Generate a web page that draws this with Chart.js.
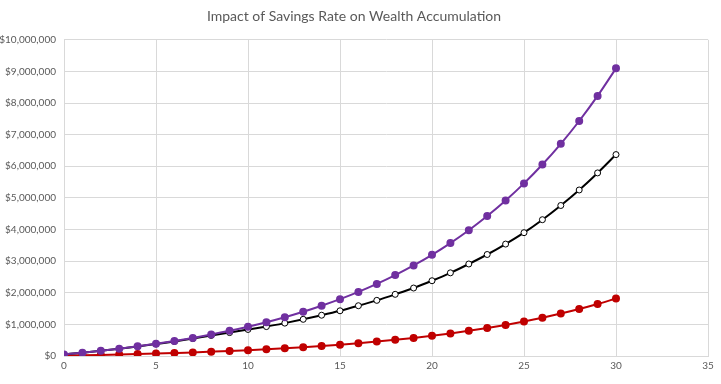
<!DOCTYPE html>
<html lang="en">
<head>
  <meta charset="UTF-8" />
  <title>Impact of Savings Rate on Wealth Accumulation</title>
  <script src="https://cdn.jsdelivr.net/npm/chart.js"></script>
  <style>
    body { margin: 0; background: #fff; }
    #wrap { width: 721px; height: 384px; }
  </style>
</head>
<body>
  <div id="wrap"><canvas id="chart" width="721" height="384"></canvas></div>
  <script>
    const years = [0, 1, 2, 3, 4, 5, 6, 7, 8, 9, 10, 11, 12, 13, 14, 15, 16, 17, 18, 19, 20,
      21, 22, 23, 24, 25, 26, 27, 28, 29, 30];

    // purple - highest savings rate
    const highSavings = [50000, 105000, 165500, 232000, 305000, 386000, 474000, 572000, 679000, 797000,
      927000, 1069000, 1226000, 1399000, 1589000, 1797000, 2027000, 2280000, 2558000, 2864000,
      3200000, 3570000, 3977000, 4425000, 4917000, 5459000, 6055000, 6710000, 7432000, 8225000, 9097000];

    // black - white markers
    const midSavings = [50000, 105000, 165000, 230000, 300000, 380000, 460000, 550000, 650000, 740000,
      840000, 930000, 1040000, 1160000, 1290000, 1430000, 1590000, 1760000, 1950000, 2150000,
      2380000, 2630000, 2910000, 3210000, 3540000, 3900000, 4310000, 4760000, 5250000, 5790000, 6370000];

    // red - low savings rate
    const lowSavings = [10000, 21000, 33000, 46000, 61000, 77000, 95000, 114000, 136000, 159000,
      185000, 214000, 245000, 280000, 318000, 359000, 405000, 456000, 512000, 573000,
      640000, 714000, 795000, 885000, 983000, 1092000, 1211000, 1342000, 1486000, 1645000, 1819000];

    const toPoints = vals => vals.map((v, i) => ({ x: years[i], y: v }));

    // first dataset ends up drawn on top
    new Chart(document.getElementById('chart').getContext('2d'), {
      type: 'line',
      data: {
        datasets: [
          {
            data: toPoints(highSavings),
            borderColor: '#7030a0',
            backgroundColor: '#7030a0',
            borderWidth: 2,
            pointRadius: 3,
            cubicInterpolationMode: 'monotone'
          },
          {
            data: toPoints(midSavings),
            borderColor: '#000000',
            backgroundColor: '#ffffff',
            borderWidth: 2,
            pointBorderWidth: 1,
            pointRadius: 3,
            cubicInterpolationMode: 'monotone'
          },
          {
            data: toPoints(lowSavings),
            borderColor: '#c00000',
            backgroundColor: '#c00000',
            borderWidth: 2,
            pointRadius: 3,
            cubicInterpolationMode: 'monotone'
          },
          {
            data: [{ x: 0, y: 0 }],
            borderColor: '#70ad47',
            backgroundColor: '#70ad47',
            pointRadius: 3
          }
        ]
      },
      options: {
        responsive: false,
        animation: false,
        layout: { padding: { left: 0, right: 13, top: 0, bottom: 0 } },
        plugins: {
          legend: { display: false },
          tooltip: { enabled: false },
          title: {
            display: true,
            text: 'Impact of Savings Rate on Wealth Accumulation',
            color: '#595959',
            font: { family: 'Lato', size: 14, weight: 'normal' },
            padding: { top: 8, bottom: 15 }
          }
        },
        scales: {
          x: {
            type: 'linear',
            min: 0,
            max: 35,
            ticks: { stepSize: 5, color: '#595959', font: { family: 'Lato', size: 10 }, padding: 4 },
            grid: { color: '#d9d9d9', drawTicks: false },
            border: { color: '#d9d9d9' },
            afterFit: s => { s.height = 28; }
          },
          y: {
            min: 0,
            max: 10000000,
            ticks: {
              stepSize: 1000000,
              color: '#595959',
              font: { family: 'Lato', size: 10 },
              padding: 8,
              callback: v => '$' + v.toLocaleString('en-US')
            },
            grid: { color: '#d9d9d9', drawTicks: false },
            border: { color: '#d9d9d9' },
            afterFit: s => { s.width = 64; }
          }
        }
      }
    });
  </script>
</body>
</html>
